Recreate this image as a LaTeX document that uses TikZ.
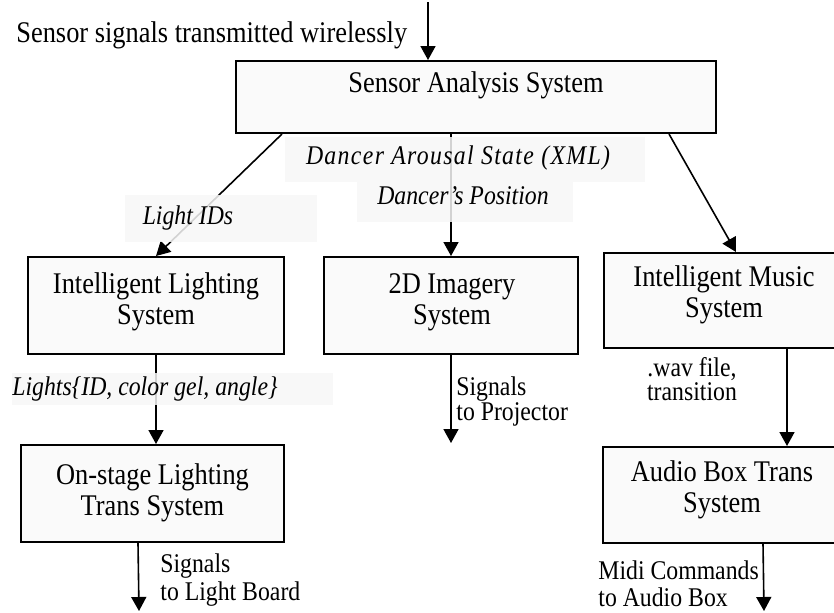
\documentclass[tikz,border=0pt]{standalone}
\usepackage{fontspec}
\setmainfont{Liberation Serif}[FakeStretch=0.88]
\usetikzlibrary{arrows.meta,calc}
\begin{document}
\begin{tikzpicture}[x=0.5pt,y=-0.5pt,
  sysbox/.style={draw, line width=1pt, fill=black!2, inner sep=0pt},
  conn/.style={line width=0.8pt, -{Triangle[length=7pt,width=7.5pt]}},
  lbg/.style={fill=black!3, fill opacity=0.85, draw=none},
  boxtxt/.style={font=\fontsize{15}{15.3}\selectfont, align=center, inner sep=0pt},
  smalltxt/.style={font=\fontsize{13.5}{14}\selectfont, inner sep=0pt},
  itxt/.style={font=\fontsize{13.5}{14}\selectfont\itshape, inner sep=0pt, anchor=mid}]
\clip (0,0) rectangle (834,612);
\fill[white] (0,0) rectangle (834,612);

% boxes
\node[sysbox, minimum width=240pt, minimum height=36pt] (sas) at (476,97) {};
\node[boxtxt, anchor=mid] (sast) at (476,88) {Sensor Analysis System};

\node[sysbox, minimum width=128pt, minimum height=48.5pt] (il) at (156,305.5) {};
\node[boxtxt] (ilt) at (156,302) {Intelligent Lighting\\System};

\node[sysbox, minimum width=127pt, minimum height=48.5pt] (img) at (451,305.5) {};
\node[boxtxt] (imgt) at (452,302) {2D Imagery\\System};

\node[sysbox, minimum width=118pt, minimum height=47.5pt] (ims) at (722,300.5) {};
\node[boxtxt] (imst) at (724,295) {Intelligent Music\\System};

\node[sysbox, minimum width=131.5pt, minimum height=48.5pt] (ost) at (152.5,493.5) {};
\node[boxtxt] (ostt) at (152.5,493) {On-stage Lighting\\Trans System};

\node[sysbox, minimum width=118.5pt, minimum height=48pt] (abt) at (721.5,495) {};
\node[boxtxt] (abtt) at (722,490) {Audio Box Trans\\System};

% free ends
\coordinate (src) at (428,2);
\coordinate (projend) at (452,443);
\coordinate (lbend) at (139,611);
\coordinate (abend) at (764,611);

% connectors
\draw[conn] (src) -- (src |- sas.north);
\draw[conn] ($(sas.south west)+(47,0)$) -- (il.north);
\draw[conn] (sas.south -| img.north) -- (img.north);
\draw[conn] ($(sas.south east)+(-48,0)$) -- ($(ims.north west)+(133,0)$);
\draw[conn] (il.south) -- (il.south |- ost.north);
\draw[conn] (img.south) -- (img.south |- projend);
\draw[conn] ($(ims.south west)+(184,0)$) -- ($(abt.north west)+(185,0)$);
\draw[conn] ($(ost.south west)+(118,0)$) -- (lbend);
\draw[conn] ($(abt.south west)+(161,0)$) -- (abend);

% label backgrounds
\fill[lbg] (285,137) rectangle (645,182);
\fill[lbg] (357,182) rectangle (573,222);
\fill[lbg] (125,195) rectangle (317,242);
\fill[lbg] (12,373) rectangle (333,405);

% labels
\node[font=\fontsize{15}{15}\selectfont, inner sep=0pt, anchor=mid west] (sig) at (16,38) {Sensor signals transmitted wirelessly};
\node[itxt] (arousal) at (458,160) {\addfontfeatures{LetterSpace=5}Dancer Arousal State (XML)};
\node[itxt] (pos) at (463,200) {Dancer’s Position};
\node[itxt] (lid) at (188,220) {Light IDs};
\node[itxt] (lights) at (145,391) {Lights\{ID, color gel, angle\}};

\node[smalltxt, align=left, anchor=west, font=\fontsize{13.5}{11.5}\selectfont] (proj) at (456,401.5) {Signals\\to Projector};
\node[smalltxt, align=center, font=\fontsize{13.5}{11}\selectfont] (wav) at (692,379) {.wav file,\\transition};
\node[smalltxt, align=left, anchor=west] (lb) at (160,580) {Signals\\to Light Board};
\node[smalltxt, align=left, anchor=west, font=\fontsize{13.5}{13.5}\selectfont] (midi) at (598,584) {Midi Commands\\to Audio Box};
\end{tikzpicture}
\end{document}
